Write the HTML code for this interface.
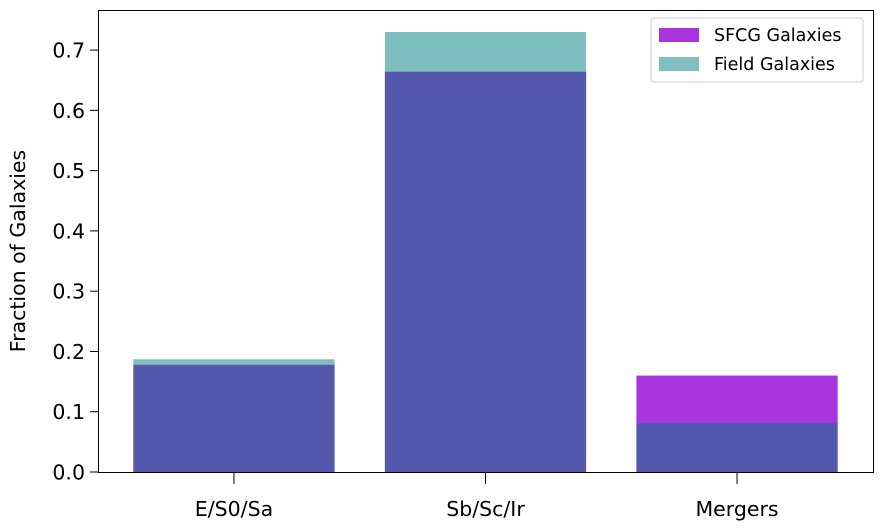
<!DOCTYPE html>
<html><head><meta charset="utf-8"><style>
body{margin:0;background:#fff;}
svg{display:block;font-family:"DejaVu Sans","Liberation Sans",sans-serif;}
</style></head><body>
<svg id="chart" width="883" height="529"></svg>
<script>
const categories=["E/S0/Sa","Sb/Sc/Ir","Mergers"];
const sfcgValues=[0.178,0.664,0.160];
const fieldValues=[0.187,0.730,0.081];
const yTicks=[0.0,0.1,0.2,0.3,0.4,0.5,0.6,0.7];
const yTickLabels=["0.0","0.1","0.2","0.3","0.4","0.5","0.6","0.7"];
const NS="http://www.w3.org/2000/svg";
const svg=document.getElementById('chart');
const L=98,R=873,T=10,B=472;
const yMax=0.7665;
function y(v){return B-(v/yMax)*(B-T);}
const xMin=-0.5405,xMax=2.5405;
function xc(i){return L+(i-xMin)/(xMax-xMin)*(R-L);}
const bw=0.8*(R-L)/(xMax-xMin);
function mk(tag,attrs){const e=document.createElementNS(NS,tag);for(const k in attrs)e.setAttribute(k,attrs[k]);svg.appendChild(e);return e;}
function bars(vals,fill,name){vals.forEach((v,i)=>{const r=mk('rect',{x:xc(i)-bw/2,y:y(v),width:bw,height:B-y(v),fill:fill});

});}
bars(sfcgValues,'rgba(148,0,211,0.8)','sfcg');
bars(fieldValues,'rgba(0,128,128,0.5)','field');
const frame=mk('rect',{x:L+0.5,y:T+0.5,width:R-L,height:B-T,fill:'none',stroke:'#000','stroke-width':1});


yTicks.forEach((v,i)=>{mk('line',{x1:L-8,x2:L,y1:y(v),y2:y(v),stroke:'#000'});
const t=mk('text',{x:L-13,y:y(v)+7.5,'text-anchor':'end','font-size':20.5});t.textContent=yTickLabels[i];

});
categories.forEach((c,i)=>{mk('line',{x1:xc(i),x2:xc(i),y1:B,y2:B+12,stroke:'#000'});
const t=mk('text',{x:xc(i),y:B+44,'text-anchor':'middle','font-size':20.5});t.textContent=c;

});
const yt=mk('text',{x:25,y:(T+B)/2+10,'text-anchor':'middle','font-size':20.5,transform:'rotate(-90 25 '+((T+B)/2+10)+')'});
yt.textContent='Fraction of Galaxies';


const lg=mk('rect',{x:651,y:18,width:212,height:64,rx:3,fill:'#fff',stroke:'#ccc'});


[['SFCG Galaxies','rgba(148,0,211,0.8)'],['Field Galaxies','rgba(0,128,128,0.5)']].forEach((e,i)=>{
mk('rect',{x:659,y:28+i*29,width:40,height:14,fill:e[1]});
const t=mk('text',{x:714,y:41+i*29,'font-size':17.5});t.textContent=e[0];

});
</script>
</body></html>
